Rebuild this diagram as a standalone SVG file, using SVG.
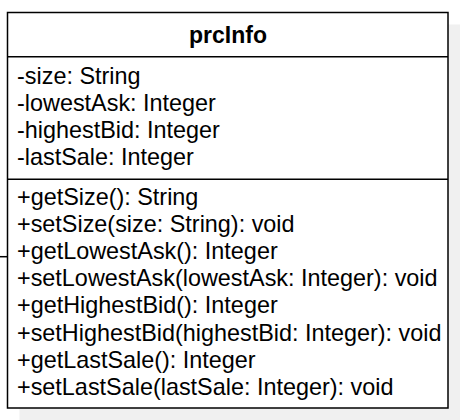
<svg xmlns="http://www.w3.org/2000/svg" width="460" height="420" viewBox="0 0 460 420">
<style>
.t{font-family:"Liberation Sans",Arial,sans-serif;font-size:23.4px;fill:#000}
.b{font-weight:bold;font-size:23px}
.ln{stroke:#000;stroke-width:1.5;fill:none}
</style>
<rect width="460" height="420" fill="#fff"/>
<g id="connectors">
<line class="ln" x1="0" y1="256.7" x2="7.5" y2="256.7"/>
</g>
<g id="prcInfo">
<rect x="19.5" y="24.5" width="441" height="396" fill="#f0f0f0"/>
<rect x="7.5" y="12.5" width="440.5" height="395.5" fill="#fff" stroke="#000" stroke-width="1.5"/>
<line class="ln" x1="7.5" y1="56.7" x2="448" y2="56.7"/>
<line class="ln" x1="7.5" y1="179.3" x2="448" y2="179.3"/>
<text class="t b" x="228" y="43" text-anchor="middle">prcInfo</text>
<text class="t" x="17" y="83.5">-size: String</text>
<text class="t" x="17" y="110.7">-lowestAsk: Integer</text>
<text class="t" x="17" y="137.9">-highestBid: Integer</text>
<text class="t" x="17" y="165.1">-lastSale: Integer</text>
<text class="t" x="17" y="204.5">+getSize(): String</text>
<text class="t" x="17" y="231.7">+setSize(size: String): void</text>
<text class="t" x="17" y="258.9">+getLowestAsk(): Integer</text>
<text class="t" x="17" y="286.1">+setLowestAsk(lowestAsk: Integer): void</text>
<text class="t" x="17" y="313.3">+getHighestBid(): Integer</text>
<text class="t" x="17" y="340.5">+setHighestBid(highestBid: Integer): void</text>
<text class="t" x="17" y="367.7">+getLastSale(): Integer</text>
<text class="t" x="17" y="394.9">+setLastSale(lastSale: Integer): void</text>
</g>
</svg>
